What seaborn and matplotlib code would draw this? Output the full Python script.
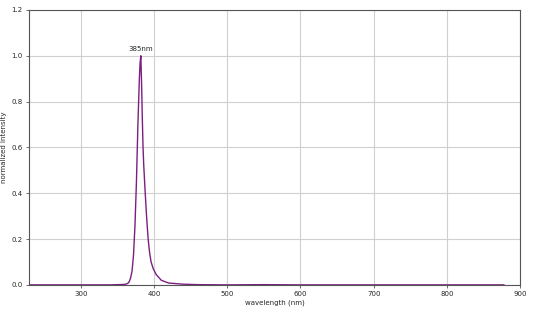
import matplotlib
matplotlib.use("Agg")
import matplotlib.pyplot as plt
import seaborn as sns
import pandas as pd

wavelength = [230, 260, 300, 340, 360, 364, 366, 368, 370, 372, 374, 376, 378, 380, 381, 382,
              383, 384, 385, 386, 388, 390, 392, 394, 396, 399, 403, 410, 420, 440, 460, 500, 550,
              600, 650, 700, 750, 800, 850, 878]
intensity = [0.0, 0.0, 0.0, 0.0, 0.002, 0.006, 0.013, 0.03, 0.06, 0.13, 0.26, 0.45, 0.7, 0.9, 0.97, 1.0,
             0.88, 0.73, 0.6, 0.52, 0.4, 0.29, 0.2, 0.14, 0.1, 0.07, 0.045, 0.02, 0.008, 0.003, 0.001, 0.0, 0.001,
             0.0, 0.0, 0.0, 0.0, 0.0, 0.0, 0.0]
peak_label = "385nm"
peak_x, peak_y = 382, 1.0
x_ticks = [300, 400, 500, 600, 700, 800, 900]
y_ticks = [0.0, 0.2, 0.4, 0.6, 0.8, 1.0, 1.2]

df = pd.DataFrame({"wavelength": wavelength, "intensity": intensity})

sns.set_style("ticks")
plt.rcParams['font.family'] = ['DejaVu Sans']
fig = plt.figure(figsize=(5.33, 3.11), dpi=100)
ax = fig.add_axes([0.054, 0.084, 0.922, 0.884])
sns.lineplot(data=df, x="wavelength", y="intensity", color="#7a1f7f", lw=1.0, ax=ax)
ax.set_xlim(229, 900)
ax.set_ylim(0, 1.2)
ax.set_xticks(x_ticks)
ax.set_yticks(y_ticks)
ax.set_yticklabels([f"{v:.1f}" for v in y_ticks])
ax.grid(True, color="#d0d0d0", lw=0.8)
ax.set_axisbelow(True)
ax.tick_params(labelsize=5, length=2.5, width=0.6, color="#555555", pad=2)
for s in ax.spines.values():
    s.set_color("#555555")
    s.set_linewidth(0.8)
ax.set_xlabel("wavelength (nm)", fontsize=5, labelpad=2)
ax.set_ylabel("normalized intensity", fontsize=5, labelpad=3)
ax.text(peak_x, peak_y + 0.015, peak_label, fontsize=5, ha="center", va="bottom")
fig.savefig("out.png", dpi=100)
